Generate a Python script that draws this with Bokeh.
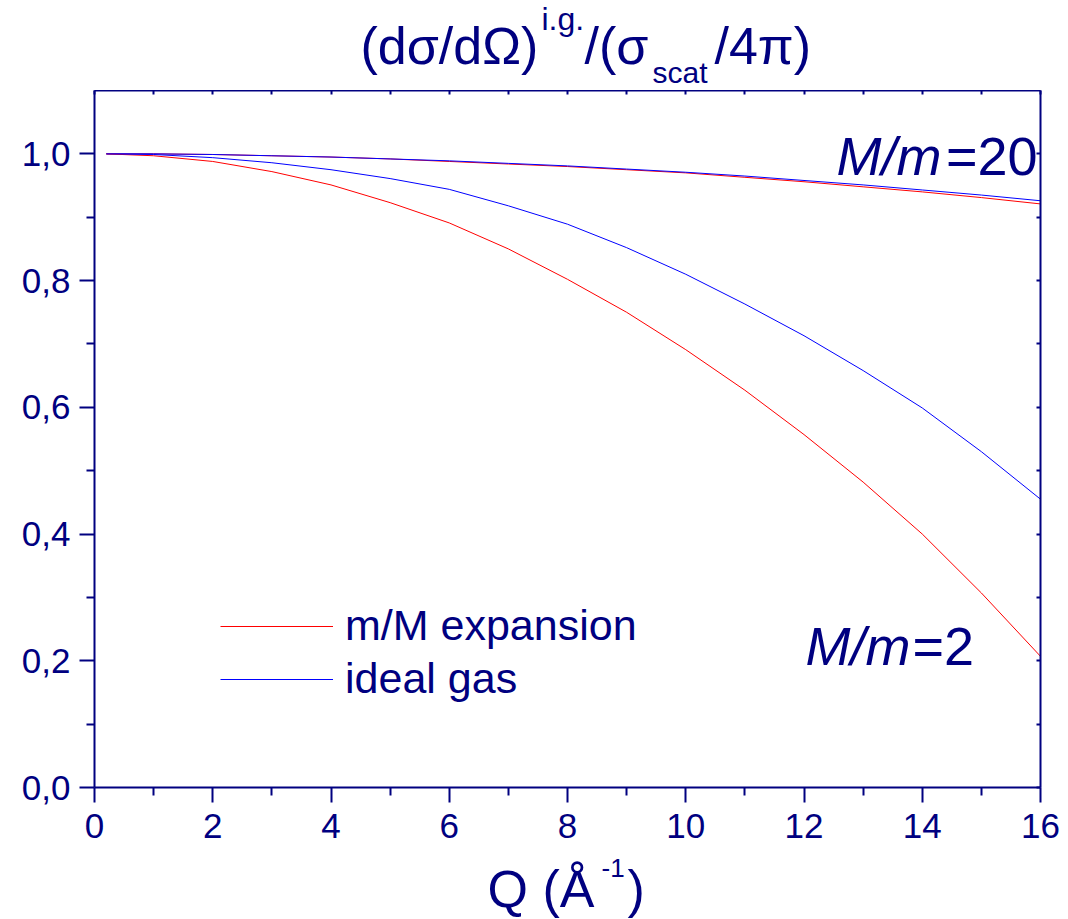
from bokeh.plotting import figure
from bokeh.layouts import column
from bokeh.models import Range1d, FixedTicker, LinearAxis, Label, Legend, LegendItem
from bokeh.core.properties import value
from bokeh.embed import file_html
from bokeh.resources import INLINE

# ---------------- data ----------------
Q = [0.2, 1, 2, 3, 4, 5, 6, 7, 8, 9, 10, 11, 12, 13, 14, 15, 16]

# M/m = 20
mm20_expansion = [1.000, 1.000, 0.999, 0.997, 0.995, 0.992, 0.988, 0.984, 0.980,
                  0.975, 0.970, 0.963, 0.956, 0.948, 0.940, 0.931, 0.921]
mm20_ideal = [1.000, 1.000, 0.999, 0.997, 0.995, 0.992, 0.989, 0.985, 0.981,
              0.976, 0.971, 0.965, 0.958, 0.951, 0.943, 0.935, 0.926]

# M/m = 2
mm2_expansion = [1.000, 0.997, 0.988, 0.972, 0.951, 0.923, 0.891, 0.850, 0.802,
                 0.750, 0.691, 0.627, 0.557, 0.482, 0.400, 0.307, 0.207]
mm2_ideal = [1.000, 0.999, 0.994, 0.986, 0.975, 0.961, 0.944, 0.918, 0.889,
             0.852, 0.810, 0.763, 0.713, 0.658, 0.599, 0.530, 0.455]

x_ticks = [0, 2, 4, 6, 8, 10, 12, 14, 16]
x_minor = [1, 3, 5, 7, 9, 11, 13, 15]
y_ticks = [0.0, 0.2, 0.4, 0.6, 0.8, 1.0]
y_tick_labels = ["0,0", "0,2", "0,4", "0,6", "0,8", "1,0"]
y_minor = [0.1, 0.3, 0.5, 0.7, 0.9]

legend_labels = ["m/M expansion", "ideal gas"]

# ---------------- styling ----------------
NAVY = "#000080"
RED = "#ff0000"
BLUE = "#0000ff"
FONT = "Liberation Sans"
W = 1068
H_TOP = 90
H_MAIN = 763
H_BOT = 66
BORDER_L = 94
BORDER_R = 28


def bare_fig(h):
    # strip whose frame lines up with the main frame; data x == page pixel
    f = figure(width=W, height=h, output_backend="svg", toolbar_location=None,
               x_range=Range1d(BORDER_L, W - BORDER_R), y_range=Range1d(h, 0),
               x_axis_type=None, y_axis_type=None,
               min_border_left=BORDER_L, min_border_right=BORDER_R,
               min_border_top=0, min_border_bottom=0)
    f.outline_line_color = None
    f.xgrid.visible = False
    f.ygrid.visible = False
    return f


def put(f, s, x, y, size, style="normal"):
    f.text(x=[x], y=[y], text=[s], text_font=value(FONT),
           text_font_size=value(size), text_color=NAVY,
           text_font_style=style, text_align="left",
           text_baseline="alphabetic")


# ---- title strip ----
pt = bare_fig(H_TOP)
put(pt, "(dσ/dΩ)", 360, 45, "52px")
put(pt, "i.g.", 541, 18, "32px")
put(pt, "/(σ", 584, 45, "52px")
put(pt, "scat", 652, 72, "30px")
put(pt, "/4π)", 714, 45, "52px")

# ---- main plot ----
p = figure(width=W, height=H_MAIN, output_backend="svg", toolbar_location=None,
           x_range=Range1d(0, 16), y_range=Range1d(0, 1.1),
           x_axis_type=None, y_axis_type=None,
           min_border_left=BORDER_L, min_border_right=BORDER_R,
           min_border_top=0, min_border_bottom=66)
p.outline_line_color = None
p.xgrid.visible = False
p.ygrid.visible = False


def style_axis(ax, labels=True):
    ax.axis_line_color = NAVY
    ax.axis_line_width = 2
    ax.major_tick_line_color = NAVY
    ax.minor_tick_line_color = NAVY
    ax.major_tick_line_width = 2
    ax.minor_tick_line_width = 2
    if labels:
        ax.major_label_text_color = NAVY
        ax.major_label_text_font = FONT
        ax.major_label_text_font_size = "35px"
        ax.major_tick_out = 15
        ax.major_tick_in = 0
        ax.minor_tick_out = 8
        ax.minor_tick_in = 0
    else:
        ax.major_label_text_color = None
        ax.major_label_text_font_size = "1px"
        ax.major_label_standoff = 0
        ax.major_tick_out = 0
        ax.major_tick_in = 4
        ax.minor_tick_out = 0
        ax.minor_tick_in = 4


xb = LinearAxis(ticker=FixedTicker(ticks=x_ticks, minor_ticks=x_minor))
style_axis(xb)
xb.major_label_standoff = 11
p.add_layout(xb, "below")

yl = LinearAxis(ticker=FixedTicker(ticks=y_ticks, minor_ticks=y_minor))
style_axis(yl)
yl.major_label_standoff = 9
yl.major_label_overrides = {t: s for t, s in zip(y_ticks, y_tick_labels)}
p.add_layout(yl, "left")

xt = LinearAxis(ticker=FixedTicker(ticks=x_ticks, minor_ticks=x_minor))
style_axis(xt, labels=False)
p.add_layout(xt, "above")

yr = LinearAxis(ticker=FixedTicker(ticks=y_ticks, minor_ticks=y_minor))
style_axis(yr, labels=False)
p.add_layout(yr, "right")

r20e = p.line(Q, mm20_expansion, line_color=RED, line_width=1)
r20i = p.line(Q, mm20_ideal, line_color=BLUE, line_width=1)
r2e = p.line(Q, mm2_expansion, line_color=RED, line_width=1)
r2i = p.line(Q, mm2_ideal, line_color=BLUE, line_width=1)

legend = Legend(items=[LegendItem(label=legend_labels[0], renderers=[r2e]),
                       LegendItem(label=legend_labels[1], renderers=[r2i])],
                location=(126, 84), orientation="vertical",
                glyph_width=113, glyph_height=48, label_height=48,
                label_standoff=12, spacing=4, padding=0, margin=0,
                border_line_color=None, background_fill_alpha=0,
                label_text_font=FONT, label_text_font_size="43px",
                label_text_color=NAVY)
p.add_layout(legend)


def lab(s, x, y, size, style="normal"):
    p.add_layout(Label(x=x, y=y, text=s, text_font=FONT, text_font_size=size,
                       text_color=NAVY, text_font_style=style,
                       text_align="left", text_baseline="alphabetic"))


lab("M/m", 12.55, 0.997, "54px", "italic")
lab("=20", 14.40, 0.997, "54px")
lab("M/m", 12.025, 0.223, "54px", "italic")
lab("=2", 13.835, 0.223, "54px")

# ---- x-axis title strip ----
pb = bare_fig(H_BOT)
put(pb, "Q (Å", 487, 35, "52px")
put(pb, "-1", 601, 14, "26px")
put(pb, ")", 627, 35, "52px")

layout = column(pt, p, pb, spacing=0)
open("out.html", "w").write(file_html(layout, INLINE))
